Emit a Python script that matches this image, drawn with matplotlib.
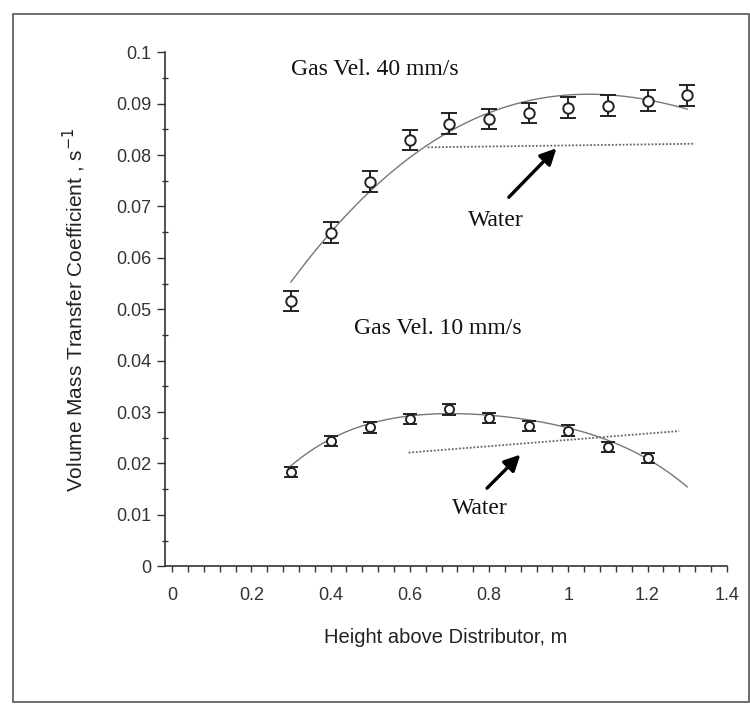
import numpy as np
import matplotlib
matplotlib.use("Agg")
import matplotlib.pyplot as plt
from matplotlib.ticker import MultipleLocator
from matplotlib.patches import Rectangle

# measured points
height = [0.3, 0.4, 0.5, 0.6, 0.7, 0.8, 0.9, 1.0, 1.1, 1.2, 1.3]
kla_40 = [0.0516, 0.0649, 0.0748, 0.0829, 0.0861, 0.0870, 0.0882, 0.0892, 0.0896, 0.0906, 0.0916]
err_40 = [0.002] * 11
height_10 = [0.3, 0.4, 0.5, 0.6, 0.7, 0.8, 0.9, 1.0, 1.1, 1.2]
kla_10 = [0.0184, 0.0243, 0.0270, 0.0286, 0.0305, 0.0289, 0.0273, 0.0264, 0.0232, 0.0211]
err_10 = [0.001] * 10

# trend lines
trend_x = [0.3, 0.4, 0.5, 0.6, 0.7, 0.8, 0.9, 1.0, 1.1, 1.2, 1.3]
trend_40 = [0.0555, 0.0645, 0.0730, 0.0797, 0.0850, 0.0880, 0.0903, 0.0916, 0.0918, 0.0910, 0.0888]
trend_10 = [0.0195, 0.0249, 0.0277, 0.0291, 0.0297, 0.0296, 0.0285, 0.0267, 0.0245, 0.0210, 0.0154]

# water reference lines (start, end)
water_40_x = [0.645, 1.32]
water_40_y = [0.0815, 0.0822]
water_10_x = [0.597, 1.28]
water_10_y = [0.0221, 0.0263]

fig = plt.figure(figsize=(7.5, 7.06), dpi=100)
ax = fig.add_axes([0.22, 0.198, 0.749, 0.728])

# frame of the scanned figure
fig.patches.append(Rectangle((13 / 750, 4 / 706), 736 / 750, 688 / 706, transform=fig.transFigure,
                             fill=False, edgecolor='#555555', lw=1.2))

xs = np.linspace(0.3, 1.3, 200)
for tr in (trend_40, trend_10):
    coef = np.polyfit(trend_x, tr, 4)
    ax.plot(xs, np.polyval(coef, xs), color='#777777', lw=1.0, zorder=2)

ax.plot(water_40_x, water_40_y, color='#666666', lw=1.3, ls=(0, (1, 1)), zorder=2)
ax.plot(water_10_x, water_10_y, color='#666666', lw=1.3, ls=(0, (1, 1)), zorder=2)

ax.errorbar(height, kla_40, yerr=err_40, fmt='o', mfc='white', mec='#222222', ms=7.5, mew=1.4,
            ecolor='#222222', elinewidth=1.4, capsize=6, capthick=1.8, zorder=3)
ax.errorbar(height_10, kla_10, yerr=err_10, fmt='o', mfc='white', mec='#222222', ms=6.5, mew=1.4,
            ecolor='#222222', elinewidth=1.4, capsize=5, capthick=1.8, zorder=3)

serif = ['Liberation Serif', 'DejaVu Serif']
ax.text(0.30, 0.0966, 'Gas Vel. 40 mm/s', family=serif, fontsize=17, va='center', ha='left',
        color='#111111')
ax.text(0.46, 0.0462, 'Gas Vel. 10 mm/s', family=serif, fontsize=17, va='center', ha='left',
        color='#111111')

ax.annotate('', xy=(0.975, 0.0817), xytext=(0.845, 0.0714),
            arrowprops=dict(arrowstyle='-|>', color='black', lw=2.4, mutation_scale=24))
ax.text(0.818, 0.0672, 'Water', family=serif, fontsize=17, ha='center', va='center', color='#111111')
ax.annotate('', xy=(0.884, 0.0221), xytext=(0.79, 0.0148),
            arrowprops=dict(arrowstyle='-|>', color='black', lw=2.4, mutation_scale=24))
ax.text(0.776, 0.0112, 'Water', family=serif, fontsize=17, ha='center', va='center', color='#111111')

ax.set_xlim(-0.018, 1.4)
ax.set_ylim(0, 0.1)
ax.spines['top'].set_visible(False)
ax.spines['right'].set_visible(False)
for s in ('left', 'bottom'):
    ax.spines[s].set_color('#333333')
    ax.spines[s].set_linewidth(1.2)

ax.xaxis.set_major_locator(MultipleLocator(0.2))
ax.xaxis.set_minor_locator(MultipleLocator(0.04))
ax.yaxis.set_major_locator(MultipleLocator(0.01))
ax.yaxis.set_minor_locator(MultipleLocator(0.005))
ax.xaxis.set_major_formatter(plt.FuncFormatter(lambda v, p: ('%g' % round(v, 2))))
ax.yaxis.set_major_formatter(plt.FuncFormatter(lambda v, p: ('%g' % round(v, 3))))

sans = ['Liberation Sans', 'DejaVu Sans']
ax.tick_params(axis='x', which='major', direction='out', length=4, width=1, pad=11,
               labelsize=13, colors='#333333')
ax.tick_params(axis='x', which='minor', direction='out', length=4, width=1, colors='#333333')
ax.tick_params(axis='y', which='major', direction='out', length=6, width=1, pad=4,
               labelsize=13, colors='#333333')
ax.tick_params(axis='y', which='minor', direction='inout', length=4, width=1, colors='#333333')
for lab in ax.get_xticklabels() + ax.get_yticklabels():
    lab.set_family(sans)

ax.set_xlabel('Height above Distributor, m', family=sans, fontsize=14.5, labelpad=17, color='#222222')
ax.set_ylabel('Volume Mass Transfer Coefficient , s$^{-1}$', family=sans, fontsize=15,
              labelpad=20, color='#222222')

fig.savefig('out.png', dpi=100)
